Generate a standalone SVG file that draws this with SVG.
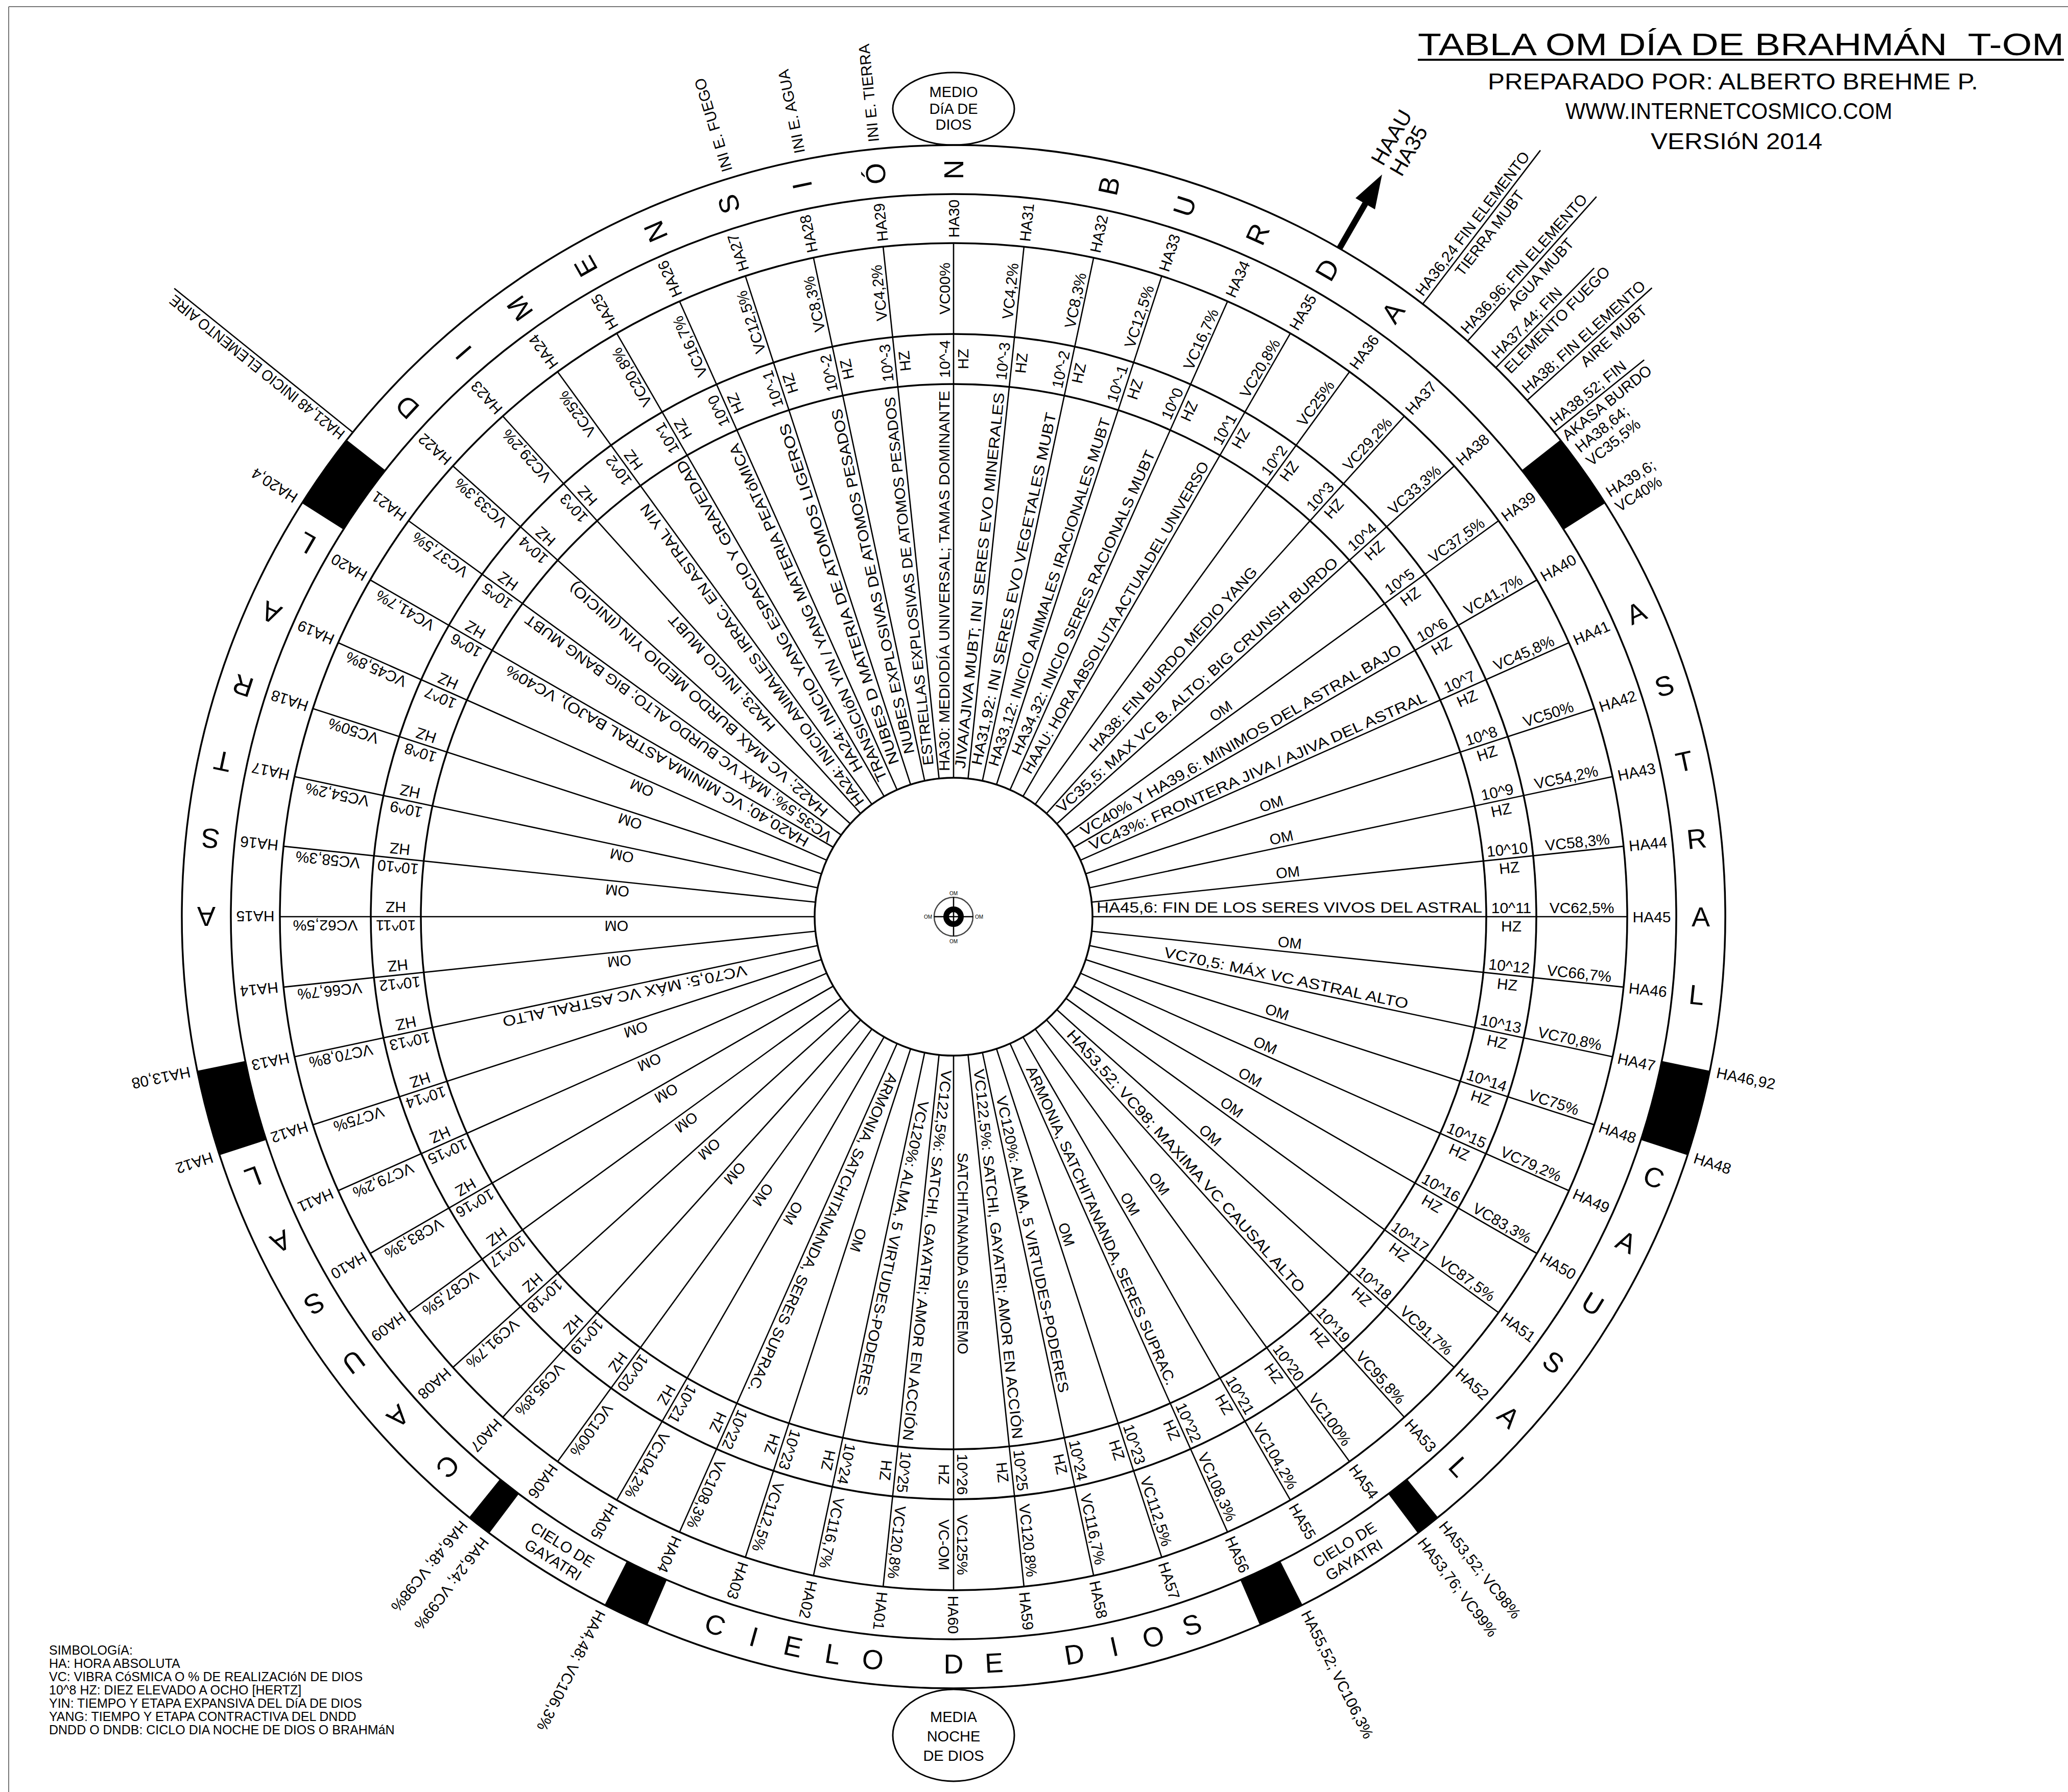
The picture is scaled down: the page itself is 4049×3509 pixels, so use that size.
<svg xmlns="http://www.w3.org/2000/svg" width="4049" height="3509" viewBox="0 0 4049 3509">
<style>
text{font-family:"Liberation Sans",Arial,Helvetica,sans-serif;fill:#000}
.sec text{font-size:30px;text-anchor:middle}
.sec text.it{font-size:29px;text-anchor:start}
.sec text.om{font-size:29px}
.ring{fill:none;stroke:#000;stroke-width:3.5}
.ln{stroke:#000;stroke-width:2.6;fill:none}
.lt text{font-size:54px;text-anchor:middle}
.lab text{font-size:30px}
.blk{fill:#000}
.leg text{font-size:25px}
.hd text{font-size:44px}
.ell ellipse{fill:#fff;stroke:#000;stroke-width:3}
.ell text{font-size:29px;text-anchor:middle}
</style>
<rect width="4049" height="3509" fill="#fff"/>
<line x1="17" y1="13" x2="4049" y2="13" stroke="#777" stroke-width="2"/>
<line x1="17" y1="13" x2="17" y2="3509" stroke="#777" stroke-width="2"/>

<g id="title" class="hd">
<text x="2776" y="108" style="font-size:62px;white-space:pre" textLength="1265" lengthAdjust="spacingAndGlyphs">TABLA OM DÍA DE BRAHMÁN  T-OM</text>
<line x1="2776" y1="117" x2="4041" y2="117" stroke="#000" stroke-width="4"/>
<text x="2913" y="175" textLength="960" lengthAdjust="spacingAndGlyphs">PREPARADO POR: ALBERTO BREHME P.</text>
<text x="3065" y="233" textLength="640" lengthAdjust="spacingAndGlyphs">WWW.INTERNETCOSMICO.COM</text>
<text x="3232" y="292" textLength="336" lengthAdjust="spacingAndGlyphs">VERSIóN 2014</text>
</g>

<g id="legend" class="leg">
<text x="96" y="3240">SIMBOLOGíA:</text>
<text x="96" y="3266">HA: HORA ABSOLUTA</text>
<text x="96" y="3292">VC: VIBRA CóSMICA O % DE REALIZACIóN DE DIOS</text>
<text x="96" y="3318">10^8 HZ: DIEZ ELEVADO A OCHO [HERTZ]</text>
<text x="96" y="3344">YIN: TIEMPO Y ETAPA EXPANSIVA DEL DíA DE DIOS</text>
<text x="96" y="3370">YANG: TIEMPO Y ETAPA CONTRACTIVA DEL DNDD</text>
<text x="96" y="3396">DNDD O DNDB: CICLO DIA NOCHE DE DIOS O BRAHMáN</text>
</g>

<g id="medio-dia" class="ell">
<ellipse cx="1867" cy="213" rx="119" ry="71"/>
<text x="1867" y="190">MEDIO</text>
<text x="1867" y="223">DíA DE</text>
<text x="1867" y="254">DIOS</text>
</g>
<g id="media-noche" class="ell">
<ellipse cx="1867" cy="3398" rx="119" ry="90"/>
<text x="1867" y="3372">MEDIA</text>
<text x="1867" y="3410">NOCHE</text>
<text x="1867" y="3448">DE DIOS</text>
</g>

<g transform="translate(1867 1795)">
<g id="rings">
<circle class="ring" r="272"/>
<circle class="ring" r="1043"/>
<circle class="ring" r="1141"/>
<circle class="ring" r="1319"/>
<circle class="ring" r="1415"/>
<circle class="ring" r="1511"/>
</g>

<g id="connectors" class="ln">
<line transform="rotate(-264)" x1="272" x2="1319"/><line transform="rotate(-258)" x1="272" x2="1319"/><line transform="rotate(-252)" x1="272" x2="1319"/><line transform="rotate(-246)" x1="272" x2="1319"/><line transform="rotate(-240)" x1="272" x2="1319"/><line transform="rotate(-234)" x1="272" x2="1319"/><line transform="rotate(-228)" x1="272" x2="1319"/><line transform="rotate(-222)" x1="272" x2="1319"/><line transform="rotate(-216)" x1="272" x2="1319"/><line transform="rotate(-210)" x1="272" x2="1319"/>
<line transform="rotate(-204)" x1="272" x2="1319"/><line transform="rotate(-198)" x1="272" x2="1319"/><line transform="rotate(-192)" x1="272" x2="1319"/><line transform="rotate(-186)" x1="272" x2="1319"/><line transform="rotate(-180)" x1="272" x2="1319"/><line transform="rotate(-174)" x1="272" x2="1319"/><line transform="rotate(-168)" x1="272" x2="1319"/><line transform="rotate(-162)" x1="272" x2="1319"/><line transform="rotate(-156)" x1="272" x2="1319"/><line transform="rotate(-150)" x1="272" x2="1319"/>
<line transform="rotate(-144)" x1="272" x2="1319"/><line transform="rotate(-138)" x1="272" x2="1319"/><line transform="rotate(-132)" x1="272" x2="1319"/><line transform="rotate(-126)" x1="272" x2="1319"/><line transform="rotate(-120)" x1="272" x2="1319"/><line transform="rotate(-114)" x1="272" x2="1319"/><line transform="rotate(-108)" x1="272" x2="1319"/><line transform="rotate(-102)" x1="272" x2="1319"/><line transform="rotate(-96)" x1="272" x2="1319"/><line transform="rotate(-90)" x1="272" x2="1319"/>
<line transform="rotate(-84)" x1="272" x2="1319"/><line transform="rotate(-78)" x1="272" x2="1319"/><line transform="rotate(-72)" x1="272" x2="1319"/><line transform="rotate(-66)" x1="272" x2="1319"/><line transform="rotate(-60)" x1="272" x2="1319"/><line transform="rotate(-54)" x1="272" x2="1319"/><line transform="rotate(-48)" x1="272" x2="1319"/><line transform="rotate(-42)" x1="272" x2="1319"/><line transform="rotate(-36)" x1="272" x2="1319"/><line transform="rotate(-30)" x1="272" x2="1319"/>
<line transform="rotate(-24)" x1="272" x2="1319"/><line transform="rotate(-18)" x1="272" x2="1319"/><line transform="rotate(-12)" x1="272" x2="1319"/><line transform="rotate(-6)" x1="272" x2="1319"/><line transform="rotate(0)" x1="272" x2="1319"/><line transform="rotate(6)" x1="272" x2="1319"/><line transform="rotate(12)" x1="272" x2="1319"/><line transform="rotate(18)" x1="272" x2="1319"/><line transform="rotate(24)" x1="272" x2="1319"/><line transform="rotate(30)" x1="272" x2="1319"/>
<line transform="rotate(36)" x1="272" x2="1319"/><line transform="rotate(42)" x1="272" x2="1319"/><line transform="rotate(48)" x1="272" x2="1319"/><line transform="rotate(54)" x1="272" x2="1319"/><line transform="rotate(60)" x1="272" x2="1319"/><line transform="rotate(66)" x1="272" x2="1319"/><line transform="rotate(72)" x1="272" x2="1319"/><line transform="rotate(78)" x1="272" x2="1319"/><line transform="rotate(84)" x1="272" x2="1319"/><line transform="rotate(90)" x1="272" x2="1319"/>
<line transform="rotate(-52.56)" x1="1511" x2="1890"/>
<line transform="rotate(-48.24)" x1="1511" x2="1890"/>
<line transform="rotate(-45.36)" x1="1511" x2="1785"/>
<line transform="rotate(-42)" x1="1511" x2="1840"/>
<line transform="rotate(-38.88)" x1="1511" x2="1737"/>
<line transform="rotate(-141.12)" x1="1511" x2="1960"/>
<g transform="rotate(-60)"><line x1="1511" x2="1625" stroke-width="12"/><polygon points="1612,-22 1678,0 1612,22" fill="#000" stroke="none"/></g>
</g>

<g id="blocks" class="blk">
<path transform="rotate(-38.16)" d="M1415 0L1511 0A1511 1511 0 0 1 1503.4 151.6L1407.9 142A1415 1415 0 0 0 1415 0Z"/>
<path transform="rotate(-147.6)" d="M1415 0L1511 0A1511 1511 0 0 1 1503.4 151.6L1407.9 142A1415 1415 0 0 0 1415 0Z"/>
<path transform="rotate(11.52)" d="M1415 0L1511 0A1511 1511 0 0 1 1501.3 170.5L1406 159.7A1415 1415 0 0 0 1415 0Z"/>
<path transform="rotate(-198)" d="M1415 0L1511 0A1511 1511 0 0 1 1501.3 170.5L1406 159.7A1415 1415 0 0 0 1415 0Z"/>
<path transform="rotate(51.12)" d="M1415 0L1511 0A1511 1511 0 0 1 1510.2 50.1L1414.2 46.9A1415 1415 0 0 0 1415 0Z"/>
<path transform="rotate(126.98)" d="M1415 0L1511 0A1511 1511 0 0 1 1510.2 50.1L1414.2 46.9A1415 1415 0 0 0 1415 0Z"/>
<path transform="rotate(63.12)" d="M1415 0L1511 0A1511 1511 0 0 1 1508.2 92.2L1412.4 86.4A1415 1415 0 0 0 1415 0Z"/>
<path transform="rotate(113.38)" d="M1415 0L1511 0A1511 1511 0 0 1 1508.2 92.2L1412.4 86.4A1415 1415 0 0 0 1415 0Z"/>
</g>

<g id="sectors" class="sec">
<g id="ha01" transform="rotate(-264)"><text x="1367" y="11">HA01</text><text x="1230" y="-7">VC120,8%</text><text x="1092" y="-7">10^25</text><text x="1092" y="29">HZ</text><text class="it" x="300" y="-8" textLength="730" lengthAdjust="spacingAndGlyphs">VC122,5%: SATCHI, GAYATRI; AMOR EN ACCIÓN</text></g>
<g id="ha02" transform="rotate(-258)"><text x="1367" y="11">HA02</text><text x="1230" y="-7">VC116,7%</text><text x="1092" y="-7">10^24</text><text x="1092" y="29">HZ</text><text class="it" x="365" y="-8" textLength="590" lengthAdjust="spacingAndGlyphs">VC120%: ALMA, 5 VIRTUDES-PODERES</text></g>
<g id="ha03" transform="rotate(-252)"><text x="1367" y="11">HA03</text><text x="1230" y="-7">VC112,5%</text><text x="1092" y="-7">10^23</text><text x="1092" y="29">HZ</text><text class="om" x="660" y="-8">OM</text></g>
<g id="ha04" transform="rotate(-246)"><text x="1367" y="11">HA04</text><text x="1230" y="-7">VC108,3%</text><text x="1092" y="-7">10^22</text><text x="1092" y="29">HZ</text><text class="it" x="330" y="-8" textLength="680" lengthAdjust="spacingAndGlyphs">ARMONIA, SATCHITANANDA, SERES SUPRAC.</text></g>
<g id="ha05" transform="rotate(-240)"><text x="1367" y="11">HA05</text><text x="1230" y="-7">VC104,2%</text><text x="1092" y="-7">10^21</text><text x="1092" y="29">HZ</text><text class="om" x="660" y="-8">OM</text></g>
<g id="ha06" transform="rotate(-234)"><text x="1367" y="11">HA06</text><text x="1230" y="-7">VC100%</text><text x="1092" y="-7">10^20</text><text x="1092" y="29">HZ</text><text class="om" x="660" y="-8">OM</text></g>
<g id="ha07" transform="rotate(-228)"><text x="1367" y="11">HA07</text><text x="1230" y="-7">VC95,8%</text><text x="1092" y="-7">10^19</text><text x="1092" y="29">HZ</text><text class="om" x="660" y="-8">OM</text></g>
<g id="ha08" transform="rotate(-222)"><text x="1367" y="11">HA08</text><text x="1230" y="-7">VC91,7%</text><text x="1092" y="-7">10^18</text><text x="1092" y="29">HZ</text><text class="om" x="660" y="-8">OM</text></g>
<g id="ha09" transform="rotate(-216)"><text x="1367" y="11">HA09</text><text x="1230" y="-7">VC87,5%</text><text x="1092" y="-7">10^17</text><text x="1092" y="29">HZ</text><text class="om" x="660" y="-8">OM</text></g>
<g id="ha10" transform="rotate(-210)"><text x="1367" y="11">HA10</text><text x="1230" y="-7">VC83,3%</text><text x="1092" y="-7">10^16</text><text x="1092" y="29">HZ</text><text class="om" x="660" y="-8">OM</text></g>
<g id="ha11" transform="rotate(-204)"><text x="1367" y="11">HA11</text><text x="1230" y="-7">VC79,2%</text><text x="1092" y="-7">10^15</text><text x="1092" y="29">HZ</text><text class="om" x="660" y="-8">OM</text></g>
<g id="ha12" transform="rotate(-198)"><text x="1367" y="11">HA12</text><text x="1230" y="-7">VC75%</text><text x="1092" y="-7">10^14</text><text x="1092" y="29">HZ</text><text class="om" x="660" y="-8">OM</text></g>
<g id="ha13" transform="rotate(-192)"><text x="1367" y="11">HA13</text><text x="1230" y="-7">VC70,8%</text><text x="1092" y="-7">10^13</text><text x="1092" y="29">HZ</text><text class="it" x="418" y="-8" textLength="488" lengthAdjust="spacingAndGlyphs">VC70,5: MÁX VC ASTRAL ALTO</text></g>
<g id="ha14" transform="rotate(-186)"><text x="1367" y="11">HA14</text><text x="1230" y="-7">VC66,7%</text><text x="1092" y="-7">10^12</text><text x="1092" y="29">HZ</text><text class="om" x="660" y="-8">OM</text></g>
<g id="ha15" transform="rotate(-180)"><text x="1367" y="11">HA15</text><text x="1230" y="-7">VC62,5%</text><text x="1092" y="-7">10^11</text><text x="1092" y="29">HZ</text><text class="om" x="660" y="-8">OM</text></g>
<g id="ha16" transform="rotate(-174)"><text x="1367" y="11">HA16</text><text x="1230" y="-7">VC58,3%</text><text x="1092" y="-7">10^10</text><text x="1092" y="29">HZ</text><text class="om" x="660" y="-8">OM</text></g>
<g id="ha17" transform="rotate(-168)"><text x="1367" y="11">HA17</text><text x="1230" y="-7">VC54,2%</text><text x="1092" y="-7">10^9</text><text x="1092" y="29">HZ</text><text class="om" x="660" y="-8">OM</text></g>
<g id="ha18" transform="rotate(-162)"><text x="1367" y="11">HA18</text><text x="1230" y="-7">VC50%</text><text x="1092" y="-7">10^8</text><text x="1092" y="29">HZ</text><text class="om" x="660" y="-8">OM</text></g>
<g id="ha19" transform="rotate(-156)"><text x="1367" y="11">HA19</text><text x="1230" y="-7">VC45,8%</text><text x="1092" y="-7">10^7</text><text x="1092" y="29">HZ</text><text class="om" x="660" y="-8">OM</text></g>
<g id="ha20" transform="rotate(-150)"><text x="1367" y="11">HA20</text><text x="1230" y="-7">VC41,7%</text><text x="1092" y="-7">10^6</text><text x="1092" y="29">HZ</text><text class="it" x="320" y="-8" textLength="680" lengthAdjust="spacingAndGlyphs">HA20,40; VC MINIMA ASTRAL BAJO), VC40%</text></g>
<g id="ha21" transform="rotate(-144)"><text x="1367" y="11">HA21</text><text x="1230" y="-7">VC37,5%</text><text x="1092" y="-7">10^5</text><text x="1092" y="29">HZ</text><text class="it" x="285" y="-8" textLength="735" lengthAdjust="spacingAndGlyphs">VC35,5%; MÁX VC BURDO ALTO; BIG BANG MUBT</text></g>
<g id="ha22" transform="rotate(-138)"><text x="1367" y="11">HA22</text><text x="1230" y="-7">VC33,3%</text><text x="1092" y="-7">10^4</text><text x="1092" y="29">HZ</text><text class="it" x="321" y="-8" textLength="670" lengthAdjust="spacingAndGlyphs">HA22; VC MÁX BURDO MEDIO YIN (INICIO)</text></g>
<g id="ha23" transform="rotate(-132)"><text x="1367" y="11">HA23</text><text x="1230" y="-7">VC29,2%</text><text x="1092" y="-7">10^3</text><text x="1092" y="29">HZ</text><text class="it" x="510" y="-8" textLength="296" lengthAdjust="spacingAndGlyphs">HA23; INICIO MUBT</text></g>
<g id="ha24" transform="rotate(-126)"><text x="1367" y="11">HA24</text><text x="1230" y="-7">VC25%</text><text x="1092" y="-7">10^2</text><text x="1092" y="29">HZ</text><text class="it" x="285" y="-8" textLength="723" lengthAdjust="spacingAndGlyphs">HA24: INICIO ANIMALES IRRAC. EN ASTRAL YIN</text></g>
<g id="ha25" transform="rotate(-120)"><text x="1367" y="11">HA25</text><text x="1230" y="-7">VC20,8%</text><text x="1092" y="-7">10^1</text><text x="1092" y="29">HZ</text><text class="it" x="340" y="-8" textLength="700" lengthAdjust="spacingAndGlyphs">HA24: INICIO YANG ESPACIO Y GRAVEDAD</text></g>
<g id="ha26" transform="rotate(-114)"><text x="1367" y="11">HA26</text><text x="1230" y="-7">VC16,7%</text><text x="1092" y="-7">10^0</text><text x="1092" y="29">HZ</text><text class="it" x="300" y="-8" textLength="720" lengthAdjust="spacingAndGlyphs">TRANSICIóN YIN / YANG MATERIA PEATóMICA</text></g>
<g id="ha27" transform="rotate(-108)"><text x="1367" y="11">HA27</text><text x="1230" y="-7">VC12,5%</text><text x="1092" y="-7">10^-1</text><text x="1092" y="29">HZ</text><text class="it" x="320" y="-8" textLength="700" lengthAdjust="spacingAndGlyphs">NUBES D MATERIA DE ATOMOS LIGEROS</text></g>
<g id="ha28" transform="rotate(-102)"><text x="1367" y="11">HA28</text><text x="1230" y="-7">VC8,3%</text><text x="1092" y="-7">10^-2</text><text x="1092" y="29">HZ</text><text class="it" x="330" y="-8" textLength="690" lengthAdjust="spacingAndGlyphs">NUBES EXPLOSIVAS DE ATOMOS PESADOS</text></g>
<g id="ha29" transform="rotate(-96)"><text x="1367" y="11">HA29</text><text x="1230" y="-7">VC4,2%</text><text x="1092" y="-7">10^-3</text><text x="1092" y="29">HZ</text><text class="it" x="300" y="-8" textLength="725" lengthAdjust="spacingAndGlyphs">ESTRELLAS EXPLOSIVAS DE ATOMOS PESADOS</text></g>
<g id="ha30" transform="rotate(-90)"><text x="1367" y="11">HA30</text><text x="1230" y="-7">VC00%</text><text x="1092" y="-7">10^-4</text><text x="1092" y="29">HZ</text><text class="it" x="285" y="-8" textLength="745" lengthAdjust="spacingAndGlyphs">HA30: MEDIODÍA UNIVERSAL; TAMAS DOMINANTE</text></g>
<g id="ha31" transform="rotate(-84)"><text x="1367" y="11">HA31</text><text x="1230" y="-7">VC4,2%</text><text x="1092" y="-7">10^-3</text><text x="1092" y="29">HZ</text><text class="it" x="290" y="-8" textLength="740" lengthAdjust="spacingAndGlyphs">JIVA/AJIVA MUBT; INI SERES EVO MINERALES</text></g>
<g id="ha32" transform="rotate(-78)"><text x="1367" y="11">HA32</text><text x="1230" y="-7">VC8,3%</text><text x="1092" y="-7">10^-2</text><text x="1092" y="29">HZ</text><text class="it" x="300" y="-8" textLength="705" lengthAdjust="spacingAndGlyphs">HA31,92: INI SERES EVO VEGETALES MUBT</text></g>
<g id="ha33" transform="rotate(-72)"><text x="1367" y="11">HA33</text><text x="1230" y="-7">VC12,5%</text><text x="1092" y="-7">10^-1</text><text x="1092" y="29">HZ</text><text class="it" x="305" y="-8" textLength="715" lengthAdjust="spacingAndGlyphs">HA33,12: INICIO ANIMALES IRACIONALES MUBT</text></g>
<g id="ha34" transform="rotate(-66)"><text x="1367" y="11">HA34</text><text x="1230" y="-7">VC16,7%</text><text x="1092" y="-7">10^0</text><text x="1092" y="29">HZ</text><text class="it" x="340" y="-8" textLength="650" lengthAdjust="spacingAndGlyphs">HA34,32: INICIO SERES RACIONALS MUBT</text></g>
<g id="ha35" transform="rotate(-60)"><text x="1367" y="11">HA35</text><text x="1230" y="-7">VC20,8%</text><text x="1092" y="-7">10^1</text><text x="1092" y="29">HZ</text><text class="it" x="316" y="-8" textLength="700" lengthAdjust="spacingAndGlyphs">HAAU: HORA ABSOLUTA ACTUALDEL UNIVERSO</text></g>
<g id="ha36" transform="rotate(-54)"><text x="1367" y="11">HA36</text><text x="1230" y="-7">VC25%</text><text x="1092" y="-7">10^2</text><text x="1092" y="29">HZ</text></g>
<g id="ha37" transform="rotate(-48)"><text x="1367" y="11">HA37</text><text x="1230" y="-7">VC29,2%</text><text x="1092" y="-7">10^3</text><text x="1092" y="29">HZ</text><text class="it" x="425" y="-8" textLength="475" lengthAdjust="spacingAndGlyphs">HA38: FIN BURDO MEDIO YANG</text></g>
<g id="ha38" transform="rotate(-42)"><text x="1367" y="11">HA38</text><text x="1230" y="-7">VC33,3%</text><text x="1092" y="-7">10^4</text><text x="1092" y="29">HZ</text><text class="it" x="293" y="-8" textLength="730" lengthAdjust="spacingAndGlyphs">VC35,5: MAX VC B. ALTO; BIG CRUNSH BURDO</text></g>
<g id="ha39" transform="rotate(-36)"><text x="1367" y="11">HA39</text><text x="1230" y="-7">VC37,5%</text><text x="1092" y="-7">10^5</text><text x="1092" y="29">HZ</text><text class="om" x="660" y="-8">OM</text></g>
<g id="ha40" transform="rotate(-30)"><text x="1367" y="11">HA40</text><text x="1230" y="-7">VC41,7%</text><text x="1092" y="-7">10^6</text><text x="1092" y="29">HZ</text><text class="it" x="300" y="-8" textLength="720" lengthAdjust="spacingAndGlyphs">VC40% Y HA39,6: MíNIMOS DEL ASTRAL BAJO</text></g>
<g id="ha41" transform="rotate(-24)"><text x="1367" y="11">HA41</text><text x="1230" y="-7">VC45,8%</text><text x="1092" y="-7">10^7</text><text x="1092" y="29">HZ</text><text class="it" x="300" y="-8" textLength="720" lengthAdjust="spacingAndGlyphs">VC43%: FRONTERA JIVA / AJIVA DEL ASTRAL</text></g>
<g id="ha42" transform="rotate(-18)"><text x="1367" y="11">HA42</text><text x="1230" y="-7">VC50%</text><text x="1092" y="-7">10^8</text><text x="1092" y="29">HZ</text><text class="om" x="660" y="-8">OM</text></g>
<g id="ha43" transform="rotate(-12)"><text x="1367" y="11">HA43</text><text x="1230" y="-7">VC54,2%</text><text x="1092" y="-7">10^9</text><text x="1092" y="29">HZ</text><text class="om" x="660" y="-8">OM</text></g>
<g id="ha44" transform="rotate(-6)"><text x="1367" y="11">HA44</text><text x="1230" y="-7">VC58,3%</text><text x="1092" y="-7">10^10</text><text x="1092" y="29">HZ</text><text class="om" x="660" y="-8">OM</text></g>
<g id="ha45" transform="rotate(0)"><text x="1367" y="11">HA45</text><text x="1230" y="-7">VC62,5%</text><text x="1092" y="-7">10^11</text><text x="1092" y="29">HZ</text><text class="it" x="280" y="-8" textLength="755" lengthAdjust="spacingAndGlyphs">HA45,6: FIN DE LOS SERES VIVOS DEL ASTRAL</text></g>
<g id="ha46" transform="rotate(6)"><text x="1367" y="11">HA46</text><text x="1230" y="-7">VC66,7%</text><text x="1092" y="-7">10^12</text><text x="1092" y="29">HZ</text><text class="om" x="660" y="-8">OM</text></g>
<g id="ha47" transform="rotate(12)"><text x="1367" y="11">HA47</text><text x="1230" y="-7">VC70,8%</text><text x="1092" y="-7">10^13</text><text x="1092" y="29">HZ</text><text class="it" x="418" y="-8" textLength="488" lengthAdjust="spacingAndGlyphs">VC70,5: MÁX VC ASTRAL ALTO</text></g>
<g id="ha48" transform="rotate(18)"><text x="1367" y="11">HA48</text><text x="1230" y="-7">VC75%</text><text x="1092" y="-7">10^14</text><text x="1092" y="29">HZ</text><text class="om" x="660" y="-8">OM</text></g>
<g id="ha49" transform="rotate(24)"><text x="1367" y="11">HA49</text><text x="1230" y="-7">VC79,2%</text><text x="1092" y="-7">10^15</text><text x="1092" y="29">HZ</text><text class="om" x="660" y="-8">OM</text></g>
<g id="ha50" transform="rotate(30)"><text x="1367" y="11">HA50</text><text x="1230" y="-7">VC83,3%</text><text x="1092" y="-7">10^16</text><text x="1092" y="29">HZ</text><text class="om" x="660" y="-8">OM</text></g>
<g id="ha51" transform="rotate(36)"><text x="1367" y="11">HA51</text><text x="1230" y="-7">VC87,5%</text><text x="1092" y="-7">10^17</text><text x="1092" y="29">HZ</text><text class="om" x="660" y="-8">OM</text></g>
<g id="ha52" transform="rotate(42)"><text x="1367" y="11">HA52</text><text x="1230" y="-7">VC91,7%</text><text x="1092" y="-7">10^18</text><text x="1092" y="29">HZ</text><text class="om" x="660" y="-8">OM</text></g>
<g id="ha53" transform="rotate(48)"><text x="1367" y="11">HA53</text><text x="1230" y="-7">VC95,8%</text><text x="1092" y="-7">10^19</text><text x="1092" y="29">HZ</text><text class="it" x="320" y="-8" textLength="680" lengthAdjust="spacingAndGlyphs">HA53,52; VC98; MAXIMA VC CAUSAL ALTO</text></g>
<g id="ha54" transform="rotate(54)"><text x="1367" y="11">HA54</text><text x="1230" y="-7">VC100%</text><text x="1092" y="-7">10^20</text><text x="1092" y="29">HZ</text><text class="om" x="660" y="-8">OM</text></g>
<g id="ha55" transform="rotate(60)"><text x="1367" y="11">HA55</text><text x="1230" y="-7">VC104,2%</text><text x="1092" y="-7">10^21</text><text x="1092" y="29">HZ</text><text class="om" x="660" y="-8">OM</text></g>
<g id="ha56" transform="rotate(66)"><text x="1367" y="11">HA56</text><text x="1230" y="-7">VC108,3%</text><text x="1092" y="-7">10^22</text><text x="1092" y="29">HZ</text><text class="it" x="330" y="-8" textLength="680" lengthAdjust="spacingAndGlyphs">ARMONIA, SATCHITANANDA, SERES SUPRAC.</text></g>
<g id="ha57" transform="rotate(72)"><text x="1367" y="11">HA57</text><text x="1230" y="-7">VC112,5%</text><text x="1092" y="-7">10^23</text><text x="1092" y="29">HZ</text><text class="om" x="660" y="-8">OM</text></g>
<g id="ha58" transform="rotate(78)"><text x="1367" y="11">HA58</text><text x="1230" y="-7">VC116,7%</text><text x="1092" y="-7">10^24</text><text x="1092" y="29">HZ</text><text class="it" x="363" y="-8" textLength="593" lengthAdjust="spacingAndGlyphs">VC120%: ALMA, 5 VIRTUDES-PODERES</text></g>
<g id="ha59" transform="rotate(84)"><text x="1367" y="11">HA59</text><text x="1230" y="-7">VC120,8%</text><text x="1092" y="-7">10^25</text><text x="1092" y="29">HZ</text><text class="it" x="302" y="-8" textLength="728" lengthAdjust="spacingAndGlyphs">VC122,5%: SATCHI, GAYATRI; AMOR EN ACCIÓN</text></g>
<g id="ha60" transform="rotate(90)"><text x="1367" y="11">HA60</text><text x="1230" y="-7">VC125%</text><text x="1230" y="29">VC-OM</text><text x="1092" y="-7">10^26</text><text x="1092" y="29">HZ</text><text class="it" x="462" y="-8" textLength="395" lengthAdjust="spacingAndGlyphs">SATCHITANANDA SUPREMO</text></g>
</g>

<g id="ring-letters" class="lt">
<text transform="rotate(-137)" x="1463" y="19">D</text>
<text transform="rotate(-131)" x="1463" y="19">I</text>
<text transform="rotate(-125.5)" x="1463" y="19">M</text>
<text transform="rotate(-119.5)" x="1463" y="19">E</text>
<text transform="rotate(-113.5)" x="1463" y="19">N</text>
<text transform="rotate(-107.5)" x="1463" y="19">S</text>
<text transform="rotate(-101.7)" x="1463" y="19">I</text>
<text transform="rotate(-96)" x="1463" y="19">Ó</text>
<text transform="rotate(-90)" x="1463" y="19">N</text>
<text transform="rotate(-78)" x="1463" y="19">B</text>
<text transform="rotate(-72)" x="1463" y="19">U</text>
<text transform="rotate(-66)" x="1463" y="19">R</text>
<text transform="rotate(-60)" x="1463" y="19">D</text>
<text transform="rotate(-54)" x="1463" y="19">A</text>
<text transform="rotate(-24)" x="1463" y="19">A</text>
<text transform="rotate(-18)" x="1463" y="19">S</text>
<text transform="rotate(-12)" x="1463" y="19">T</text>
<text transform="rotate(-6)" x="1463" y="19">R</text>
<text transform="rotate(0)" x="1463" y="19">A</text>
<text transform="rotate(6)" x="1463" y="19">L</text>
<text transform="rotate(20.4)" x="1463" y="19">C</text>
<text transform="rotate(25.8)" x="1463" y="19">A</text>
<text transform="rotate(31.2)" x="1463" y="19">U</text>
<text transform="rotate(36.6)" x="1463" y="19">S</text>
<text transform="rotate(42)" x="1463" y="19">A</text>
<text transform="rotate(47.4)" x="1463" y="19">L</text>
<text transform="rotate(-227.4)" x="1463" y="19">C</text>
<text transform="rotate(-222)" x="1463" y="19">A</text>
<text transform="rotate(-216.6)" x="1463" y="19">U</text>
<text transform="rotate(-211.2)" x="1463" y="19">S</text>
<text transform="rotate(-205.8)" x="1463" y="19">A</text>
<text transform="rotate(-200.4)" x="1463" y="19">L</text>
<text transform="rotate(-180)" x="1463" y="19">A</text>
<text transform="rotate(-174)" x="1463" y="19">S</text>
<text transform="rotate(-168)" x="1463" y="19">T</text>
<text transform="rotate(-162)" x="1463" y="19">R</text>
<text transform="rotate(-156)" x="1463" y="19">A</text>
<text transform="rotate(-150)" x="1463" y="19">L</text>
<text transform="rotate(18.6)" x="0" y="1482">C</text>
<text transform="rotate(15.5)" x="0" y="1482">I</text>
<text transform="rotate(12.4)" x="0" y="1482">E</text>
<text transform="rotate(9.3)" x="0" y="1482">L</text>
<text transform="rotate(6.2)" x="0" y="1482">O</text>
<text transform="rotate(0)" x="0" y="1482">D</text>
<text transform="rotate(-3.1)" x="0" y="1482">E</text>
<text transform="rotate(-9.3)" x="0" y="1482">D</text>
<text transform="rotate(-12.4)" x="0" y="1482">I</text>
<text transform="rotate(-15.5)" x="0" y="1482">O</text>
<text transform="rotate(-18.6)" x="0" y="1482">S</text>
</g>

<g id="gayatri" class="lab">
<g transform="rotate(-31.9)"><text x="0" y="1459" text-anchor="middle">CIELO DE</text><text x="0" y="1494" text-anchor="middle">GAYATRI</text></g>
<g transform="rotate(31.9)"><text x="0" y="1459" text-anchor="middle">CIELO DE</text><text x="0" y="1494" text-anchor="middle">GAYATRI</text></g>
</g>

<g id="outer-labels" class="lab">
<g transform="rotate(-52.56)"><text x="1522" y="-8">HA36,24 FIN ELEMENTO</text><text x="1600" y="30">TIERRA MUBT</text></g>
<g transform="rotate(-48.24)"><text x="1520" y="-8">HA36,96; FIN ELEMENTO</text><text x="1616" y="30">AGUA MUBT</text></g>
<g transform="rotate(-45.36)"><text x="1525" y="-8">HA37,44; FIN</text><text x="1522" y="30">ELEMENTO FUEGO</text></g>
<g transform="rotate(-42)"><text x="1520" y="-8">HA38; FIN ELEMENTO</text><text x="1640" y="30">AIRE MUBT</text></g>
<g transform="rotate(-38.88)"><text x="1520" y="-8">HA38,52; FIN</text><text x="1520" y="30">AKASA BURDO</text><text x="1525" y="64">HA38,64;</text><text x="1525" y="98">VC35,5%</text></g>
<g transform="rotate(-32.4)"><text x="1525" y="-4">HA39,6;</text><text x="1525" y="30">VC40%</text></g>
<g transform="rotate(11.52)"><text x="1525" y="11">HA46,92</text></g>
<g transform="rotate(18)"><text x="1525" y="11">HA48</text></g>
<g transform="rotate(51.12)"><text x="1525" y="11">HA53,52; VC98%</text></g>
<g transform="rotate(52.56)"><text x="1525" y="25">HA53,76; VC99%</text></g>
<g transform="rotate(63.12)"><text x="1525" y="11">HA55,52; VC106,3%</text></g>
<g transform="rotate(116.88)"><text x="1525" y="11">HA4,48; VC106,3%</text></g>
<g transform="rotate(127.44)"><text x="1525" y="-3">HA6,24; VC99%</text></g>
<g transform="rotate(128.88)"><text x="1525" y="11">HA6,48; VC98%</text></g>
<g transform="rotate(-191.52)"><text x="1525" y="11">HA13,08</text></g>
<g transform="rotate(-198)"><text x="1525" y="11">HA12</text></g>
<g transform="rotate(-141.12)"><text x="1522" y="-8" textLength="430" lengthAdjust="spacingAndGlyphs">HA21,48 INICIO ELEMENTO AIRE</text></g>
<g transform="rotate(-147.6)"><text x="1525" y="11">HA20,4</text></g>
<g transform="rotate(-106.9)"><text x="1525" y="11">INI E. FUEGO</text></g>
<g transform="rotate(-101.4)"><text x="1525" y="11">INI E. AGUA</text></g>
<g transform="rotate(-95.9)"><text x="1525" y="11">INI E. TIERRA</text></g>
<g transform="rotate(-60)"><text x="1692" y="-6" style="font-size:42px">HAAU</text><text x="1692" y="36" style="font-size:42px">HA35</text></g>
</g>

<g id="center-mark">
<circle r="38" fill="none" stroke="#444" stroke-width="2.5"/>
<circle r="14.5" fill="none" stroke="#000" stroke-width="11"/>
<line x1="-38" y1="0" x2="38" y2="0" stroke="#000" stroke-width="2.5"/>
<line x1="0" y1="-38" x2="0" y2="38" stroke="#000" stroke-width="2.5"/>
<text x="0" y="-42" text-anchor="middle" style="font-size:10px">OM</text>
<text x="0" y="52" text-anchor="middle" style="font-size:10px">OM</text>
<text x="-42" y="4" text-anchor="end" style="font-size:10px">OM</text>
<text x="42" y="4" text-anchor="start" style="font-size:10px">OM</text>
</g>
</g>
</svg>
